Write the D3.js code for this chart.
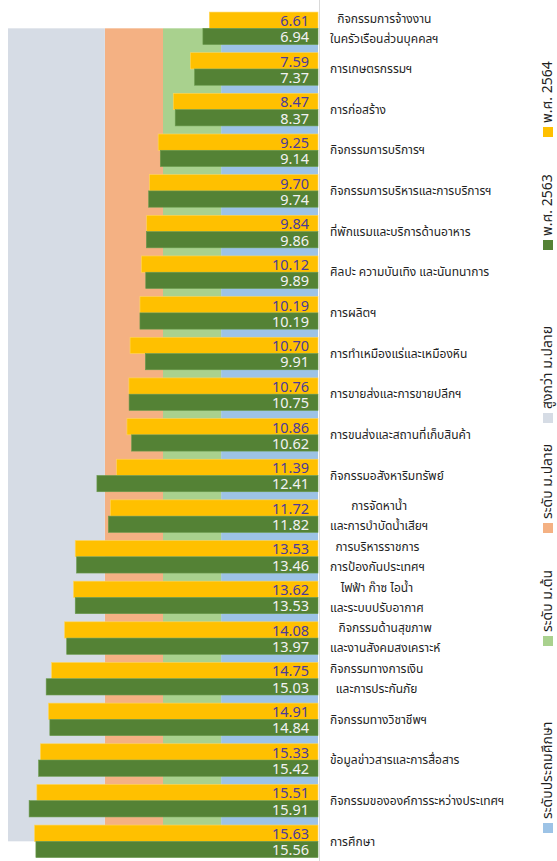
<!DOCTYPE html>
<html>
<head>
<meta charset="utf-8">
<script src="https://cdn.jsdelivr.net/npm/d3@7"></script>
<style>
  body { margin: 0; background: #fff; }
  svg { display: block; font-family: Tahoma, "Noto Sans Thai", "Noto Sans", sans-serif; }
</style>
</head>
<body>
<div id="chart"></div>
<script>
// categories (top to bottom), labels may have two lines
var categories = [
  "กิจกรรมการจ้างงาน|ในครัวเรือนส่วนบุคคลฯ",
  "การเกษตรกรรมฯ",
  "การก่อสร้าง",
  "กิจกรรมการบริการฯ",
  "กิจกรรมการบริหารและการบริการฯ",
  "ที่พักแรมและบริการด้านอาหาร",
  "ศิลปะ ความบันเทิง และนันทนาการ",
  "การผลิตฯ",
  "การทำเหมืองแร่และเหมืองหิน",
  "การขายส่งและการขายปลีกฯ",
  "การขนส่งและสถานที่เก็บสินค้า",
  "กิจกรรมอสังหาริมทรัพย์",
  "การจัดหาน้ำ|และการบำบัดน้ำเสียฯ",
  "การบริหารราชการ|การป้องกันประเทศฯ",
  "ไฟฟ้า ก๊าซ ไอน้ำ|และระบบปรับอากาศ",
  "กิจกรรมด้านสุขภาพ|และงานสังคมสงเคราะห์",
  "กิจกรรมทางการเงิน|และการประกันภัย",
  "กิจกรรมทางวิชาชีพฯ",
  "ข้อมูลข่าวสารและการสื่อสาร",
  "กิจกรรมขององค์การระหว่างประเทศฯ",
  "การศึกษา"
];

var values2564 = [6.61, 7.59, 8.47, 9.25, 9.70, 9.84, 10.12, 10.19, 10.70, 10.76, 10.86,
                  11.39, 11.72, 13.53, 13.62, 14.08, 14.75, 14.91, 15.33, 15.51, 15.63];
var values2563 = [6.94, 7.37, 8.37, 9.14, 9.74, 9.86, 9.89, 10.19, 9.91, 10.75, 10.62,
                  12.41, 11.82, 13.46, 13.53, 13.97, 15.03, 14.84, 15.42, 15.91, 15.56];

// education levels shown as background (cumulative years)
var levelNames = ["ระดับประถมศึกษา", "ระดับ ม.ต้น", "ระดับ ม.ปลาย", "สูงกว่า ม.ปลาย"];
var levelYears = [6, 9, 12, 17];

var seriesNames = ["พ.ศ. 2564", "พ.ศ. 2563"];

var colors = {
  "พ.ศ. 2564": "#FFC000",
  "พ.ศ. 2563": "#548235",
  "ระดับประถมศึกษา": "#9DC3E6",
  "ระดับ ม.ต้น": "#A9D18E",
  "ระดับ ม.ปลาย": "#F4B183",
  "สูงกว่า ม.ปลาย": "#D6DCE5"
};

var width = 557, height = 861;

var svg = d3.select("#chart").append("svg")
  .attr("width", width)
  .attr("height", height);

// reversed value axis, bars grow to the left
var x = d3.scaleLinear().domain([1, 17]).range([318, 8]);

var y = d3.scaleBand()
  .domain(categories)
  .range([8, 8 + 21 * 40.65])
  .paddingInner(0.2)
  .paddingOuter(0.1);

var ySub = d3.scaleBand().domain(seriesNames).range([0, y.bandwidth()]);

// background level bands
var yTop = y(categories[0]) + y.bandwidth() / 2;
var yBot = y(categories[categories.length - 1]) + y.bandwidth() / 2;
var prev = x.domain()[0];
levelYears.forEach(function(v, i) {
  svg.append("rect")
    .attr("x", x(v))
    .attr("y", yTop)
    .attr("width", x(prev) - x(v))
    .attr("height", yBot - yTop)
    .attr("fill", colors[levelNames[i]]);
  prev = v;
});

// bars
var rows = categories.map(function(c, i) {
  return { cat: c, vals: [values2564[i], values2563[i]] };
});

var groups = svg.selectAll("g.row")
  .data(rows)
  .enter().append("g")
  .attr("class", "row")
  .attr("transform", d => `translate(0, ${y(d.cat)})`);

groups.selectAll("rect")
  .data(d => d.vals.map((v, j) => ({ key: seriesNames[j], v: v })))
  .enter().append("rect")
  .attr("x", d => x(d.v))
  .attr("y", d => ySub(d.key))
  .attr("width", d => x(1) - x(d.v))
  .attr("height", ySub.bandwidth())
  .attr("fill", d => colors[d.key])
  .attr("stroke", d => d.key === "พ.ศ. 2564" ? "#ffd75e" : "#6a9a4c")
  .attr("stroke-width", 0.6);

groups.selectAll("text.val")
  .data(d => d.vals.map((v, j) => ({ key: seriesNames[j], v: v })))
  .enter().append("text")
  .attr("class", "val")
  .attr("x", 309)
  .attr("y", d => ySub(d.key) + ySub.bandwidth() / 2)
  .attr("dy", "0.4em")
  .attr("text-anchor", "end")
  .attr("font-family", "'Noto Sans', sans-serif")
  .attr("font-size", 14.5)
  .attr("fill", d => d.key === "พ.ศ. 2564" ? "#4b3a9a" : "#f2f2f2")
  .text(d => d.v.toFixed(2));

// value axis line
svg.append("line")
  .attr("x1", 319.5).attr("x2", 319.5)
  .attr("y1", 0).attr("y2", height)
  .attr("stroke", "#d9d9d9");

// category labels
var labelX = 330;
categories.forEach(function(c) {
  var lines = c.split("|");
  var cy = y(c) + y.bandwidth() / 2;
  var t = svg.append("text")
    .attr("font-size", 12)
    .attr("fill", "#1f1f1f");
  var spans = lines.map(function(l, k) {
    return t.append("tspan")
      .attr("y", cy + (k - (lines.length - 1) / 2) * 20)
      .attr("dy", "0.35em")
      .text(l);
  });
  var ws = spans.map(s => s.node().getComputedTextLength());
  var wMax = d3.max(ws);
  spans.forEach(function(s, k) {
    s.attr("x", labelX + (wMax - ws[k]) / 2);
  });
});

// legend, rotated, reading bottom to top
var legendItems = ["ระดับประถมศึกษา", "ระดับ ม.ต้น", "ระดับ ม.ปลาย", "สูงกว่า ม.ปลาย", "พ.ศ. 2563", "พ.ศ. 2564"];
var legendY = [828, 641, 528, 418, 245, 132];
legendItems.forEach(function(name, i) {
  var g = svg.append("g").attr("transform", `translate(548, ${legendY[i]})`);
  g.append("rect")
    .attr("x", -5).attr("y", -5)
    .attr("width", 10).attr("height", 10)
    .attr("fill", colors[name]);
  g.append("text")
    .attr("transform", "translate(-1, -9) rotate(-90)")
    .attr("dy", "0.35em")
    .attr("font-size", 14)
    .attr("fill", "#1f1f1f")
    .text(name);
});
</script>
</body>
</html>
